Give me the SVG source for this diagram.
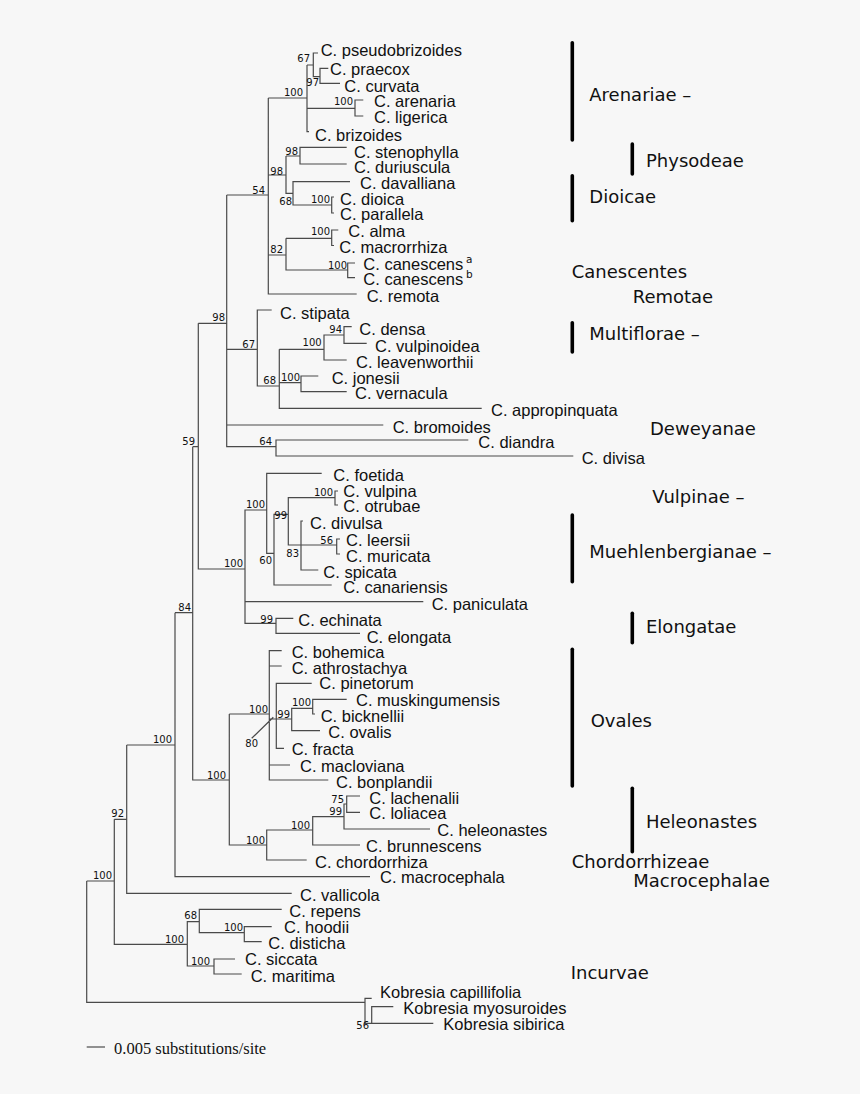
<svg xmlns="http://www.w3.org/2000/svg" width="860" height="1094" viewBox="0 0 860 1094">
<style>
.leaf{font-family:"Liberation Sans",Arial,sans-serif;font-size:16.5px;fill:#111}
.sup{font-family:"DejaVu Sans",Verdana,sans-serif;font-size:10px;fill:#111;text-anchor:end}
.sml{font-family:"DejaVu Sans",Verdana,sans-serif;font-size:10.5px;fill:#111}
.grp{font-family:"DejaVu Sans",Verdana,sans-serif;font-size:18px;fill:#111}
.br{fill:none;stroke:#4a4a4a;stroke-width:1.2}
.bar{stroke:#000;stroke-width:3.6;stroke-linecap:round}
.scale{font-family:"Liberation Serif","Times New Roman",serif;font-size:16.5px;fill:#111}
</style>
<rect x="0" y="0" width="860" height="1094" fill="#f7f7f7"/>
<g id="connectors" class="br">
<path d="M86.7,881 V1002.3 H365 M86.7,881 H114.3
M114.3,819.3 V944.3 H187.3 M114.3,819.3 H126.7
M126.7,745 V893.3 H291.7 M126.7,745 H175
M175,612.7 V876.7 H370 M175,612.7 H192.7
M192.7,446.7 V780 H229.3 M192.7,446.7 H198.3
M198.3,323.3 V569 H245 M198.3,323.3 H226.7
M226.7,195 V446.7 H276 M226.7,195 H268.3 M226.7,349.3 H257.3 M226.7,425 H383.3
M268.3,98 V294 H356.7 M268.3,98 H307 M268.3,175 H286 M268.3,255 H286
M307,65 V131.7 H309 M307,65 H313.3 M307,108.3 H355
M318,53 H313.3 V76.7 H320
M328.3,68.3 H320 V83.3 H340
M363.3,100 H355 V116 H363.3
M286,156 V193.3 H293 M286,156 H300
M346.7,147.3 H300 V164 H346.7
M350,181.7 H293 V205 H331.7
M334,197 H331.7 V213 H334
M286,238.3 V270 H347.7 M286,238.3 H331.7
M338.3,230 H331.7 V245.5 H334
M355,263 H347.7 V277.7 H355
M271.7,310 H257.3 V386 H279.3
M279.3,349.3 V408.3 H481.7 M279.3,349.3 H324 M279.3,382.7 H301
M344,335 H324 V360 H346.7
M351.7,326.7 H344 V343.3 H366.7
M318.3,376 H301 V391.7 H346.7
M468.3,440 H276 V456 H573.3
M266.7,510 H245 V623.3 H276 M245,601.7 H423.3
M321.7,473.3 H266.7 V553.3 H274
M288.3,514.3 H274 V585 H331.7
M335,497.7 H288.3 V545 H301
M338,491 H335 V505 H338
M303,521 H301 V570 H318.3 M301,545 H336.7
M340,539 H336.7 V554 H340
M293.3,618.3 H276 V633.3 H360
M229.3,714 V845 H266.7 M229.3,714 H269.3
M281.7,650.7 H269.3 V780 H328.3 M269.3,666 H281.7 M269.3,765 H290 M269.3,719 H291.7
M311.7,683.3 H276.3 V748.3 H284
M312.7,708.3 H291.7 V730.7 H320
M346.7,699.3 H312.7 V714 H315
M251.7,738.3 L273.3,717.3
M312.7,830 H266.7 V860 H306.7
M344,816.7 H312.7 V845 H360
M346.7,804 H344 V829 H430
M360,796 H346.7 V812.3 H360
M199.3,921.7 H187.3 V966 H214
M281.7,909.3 H199.3 V932.7 H244.3
M271.7,926.7 H244.3 V941.7 H261.7
M235,959 H214 V974 H241.7
M371.7,998.3 H365 V1023.3 H433.3
M393.3,1006.7 H371.7 V1023.3"/>
</g>
<g id="leaves">
<g id="leaf-pseudobrizoides"><text class="leaf" x="320.7" y="56">C. pseudobrizoides</text></g>
<g id="leaf-praecox"><text class="leaf" x="330" y="75.3">C. praecox</text></g>
<g id="leaf-curvata"><text class="leaf" x="344.3" y="92">C. curvata</text></g>
<g id="leaf-arenaria"><text class="leaf" x="374" y="106.7">C. arenaria</text></g>
<g id="leaf-ligerica"><text class="leaf" x="374" y="122.7">C. ligerica</text></g>
<g id="leaf-brizoides"><text class="leaf" x="315" y="141">C. brizoides</text></g>
<g id="leaf-stenophylla"><text class="leaf" x="354" y="157.7">C. stenophylla</text></g>
<g id="leaf-duriuscula"><text class="leaf" x="354" y="172.7">C. duriuscula</text></g>
<g id="leaf-davalliana"><text class="leaf" x="360" y="189.3">C. davalliana</text></g>
<g id="leaf-dioica"><text class="leaf" x="340" y="205.3">C. dioica</text></g>
<g id="leaf-parallela"><text class="leaf" x="340" y="220.3">C. parallela</text></g>
<g id="leaf-alma"><text class="leaf" x="348.3" y="237">C. alma</text></g>
<g id="leaf-macrorrhiza"><text class="leaf" x="339.3" y="252.7">C. macrorrhiza</text></g>
<g id="leaf-canescens-a"><text class="leaf" x="363.3" y="270.3">C. canescens</text><text class="sml" x="466" y="263">a</text></g>
<g id="leaf-canescens-b"><text class="leaf" x="363.3" y="285.3">C. canescens</text><text class="sml" x="466" y="277.5">b</text></g>
<g id="leaf-remota"><text class="leaf" x="366.7" y="301.7">C. remota</text></g>
<g id="leaf-stipata"><text class="leaf" x="280" y="318.5">C. stipata</text></g>
<g id="leaf-densa"><text class="leaf" x="359.3" y="335.3">C. densa</text></g>
<g id="leaf-vulpinoidea"><text class="leaf" x="375" y="351.7">C. vulpinoidea</text></g>
<g id="leaf-leavenworthii"><text class="leaf" x="356" y="367.7">C. leavenworthii</text></g>
<g id="leaf-jonesii"><text class="leaf" x="331.7" y="383.7">C. jonesii</text></g>
<g id="leaf-vernacula"><text class="leaf" x="355" y="399.3">C. vernacula</text></g>
<g id="leaf-appropinquata"><text class="leaf" x="491" y="416">C. appropinquata</text></g>
<g id="leaf-bromoides"><text class="leaf" x="392.7" y="432.7">C. bromoides</text></g>
<g id="leaf-diandra"><text class="leaf" x="478.3" y="448.3">C. diandra</text></g>
<g id="leaf-divisa"><text class="leaf" x="581.7" y="464.3">C. divisa</text></g>
<g id="leaf-foetida"><text class="leaf" x="333.3" y="481">C. foetida</text></g>
<g id="leaf-vulpina"><text class="leaf" x="343.3" y="497">C. vulpina</text></g>
<g id="leaf-otrubae"><text class="leaf" x="343.3" y="512">C. otrubae</text></g>
<g id="leaf-divulsa"><text class="leaf" x="310" y="528.7">C. divulsa</text></g>
<g id="leaf-leersii"><text class="leaf" x="346" y="546">C. leersii</text></g>
<g id="leaf-muricata"><text class="leaf" x="346" y="561.7">C. muricata</text></g>
<g id="leaf-spicata"><text class="leaf" x="323.3" y="577.7">C. spicata</text></g>
<g id="leaf-canariensis"><text class="leaf" x="343.3" y="592.7">C. canariensis</text></g>
<g id="leaf-paniculata"><text class="leaf" x="431.7" y="610">C. paniculata</text></g>
<g id="leaf-echinata"><text class="leaf" x="298.3" y="626">C. echinata</text></g>
<g id="leaf-elongata"><text class="leaf" x="366.7" y="642.7">C. elongata</text></g>
<g id="leaf-bohemica"><text class="leaf" x="291.7" y="657.7">C. bohemica</text></g>
<g id="leaf-athrostachya"><text class="leaf" x="291.7" y="674.3">C. athrostachya</text></g>
<g id="leaf-pinetorum"><text class="leaf" x="319.3" y="689.3">C. pinetorum</text></g>
<g id="leaf-muskingumensis"><text class="leaf" x="356" y="706">C. muskingumensis</text></g>
<g id="leaf-bicknellii"><text class="leaf" x="320.7" y="722">C. bicknellii</text></g>
<g id="leaf-ovalis"><text class="leaf" x="328.3" y="737.7">C. ovalis</text></g>
<g id="leaf-fracta"><text class="leaf" x="291.7" y="755">C. fracta</text></g>
<g id="leaf-macloviana"><text class="leaf" x="300" y="771.7">C. macloviana</text></g>
<g id="leaf-bonplandii"><text class="leaf" x="336" y="787.7">C. bonplandii</text></g>
<g id="leaf-lachenalii"><text class="leaf" x="369.3" y="803.7">C. lachenalii</text></g>
<g id="leaf-loliacea"><text class="leaf" x="369.3" y="819.3">C. loliacea</text></g>
<g id="leaf-heleonastes"><text class="leaf" x="437.3" y="836">C. heleonastes</text></g>
<g id="leaf-brunnescens"><text class="leaf" x="366" y="852">C. brunnescens</text></g>
<g id="leaf-chordorrhiza"><text class="leaf" x="315" y="867.7">C. chordorrhiza</text></g>
<g id="leaf-macrocephala"><text class="leaf" x="380" y="883.3">C. macrocephala</text></g>
<g id="leaf-vallicola"><text class="leaf" x="300" y="901">C. vallicola</text></g>
<g id="leaf-repens"><text class="leaf" x="289.3" y="916.7">C. repens</text></g>
<g id="leaf-hoodii"><text class="leaf" x="284" y="932.7">C. hoodii</text></g>
<g id="leaf-disticha"><text class="leaf" x="268.3" y="948.7">C. disticha</text></g>
<g id="leaf-siccata"><text class="leaf" x="245" y="965">C. siccata</text></g>
<g id="leaf-maritima"><text class="leaf" x="250.7" y="981.7">C. maritima</text></g>
<g id="leaf-kobresia-capillifolia"><text class="leaf" x="380" y="998">Kobresia capillifolia</text></g>
<g id="leaf-kobresia-myosuroides"><text class="leaf" x="403.3" y="1013.7">Kobresia myosuroides</text></g>
<g id="leaf-kobresia-sibirica"><text class="leaf" x="443.3" y="1030.3">Kobresia sibirica</text></g>
</g>
<g id="support-values" class="sup">
<text x="303" y="95.5">100</text>
<text x="310" y="61.5">67</text>
<text x="319" y="86">97</text>
<text x="353" y="105">100</text>
<text x="298" y="155">98</text>
<text x="283" y="175">98</text>
<text x="292" y="205">68</text>
<text x="330" y="203">100</text>
<text x="265" y="194">54</text>
<text x="330" y="234.5">100</text>
<text x="283" y="252.5">82</text>
<text x="347" y="268.5">100</text>
<text x="225" y="320.5">98</text>
<text x="255" y="347.5">67</text>
<text x="342" y="332.5">94</text>
<text x="321.7" y="346">100</text>
<text x="276" y="383.5">68</text>
<text x="300" y="381">100</text>
<text x="272" y="445">64</text>
<text x="195" y="444.5">59</text>
<text x="265" y="508">100</text>
<text x="243" y="566.5">100</text>
<text x="333" y="495.5">100</text>
<text x="287" y="518.5">99</text>
<text x="333" y="543.5">56</text>
<text x="299" y="556.5">83</text>
<text x="272" y="563.5">60</text>
<text x="273" y="622.5">99</text>
<text x="191" y="610.5">84</text>
<text x="268" y="712.5">100</text>
<text x="290" y="717.5">99</text>
<text x="311" y="706">100</text>
<text x="258" y="747">80</text>
<text x="226" y="778.5">100</text>
<text x="344" y="802.5">75</text>
<text x="342" y="814.5">99</text>
<text x="310" y="828.5">100</text>
<text x="265" y="843.5">100</text>
<text x="172" y="742.5">100</text>
<text x="124" y="816.5">92</text>
<text x="112" y="878.5">100</text>
<text x="197" y="918.5">68</text>
<text x="184" y="942.5">100</text>
<text x="243" y="931">100</text>
<text x="210" y="964.5">100</text>
<text x="369" y="1029">56</text>
</g>
<g id="groups">
<g id="grp-arenariae"><line class="bar" x1="572.3" y1="42.7" x2="572.3" y2="140"/><text class="grp" x="589.3" y="101">Arenariae –</text></g>
<g id="grp-physodeae"><line class="bar" x1="632.3" y1="144" x2="632.3" y2="174"/><text class="grp" x="646" y="166.7">Physodeae</text></g>
<g id="grp-dioicae"><line class="bar" x1="572.3" y1="175.7" x2="572.3" y2="220.7"/><text class="grp" x="589.3" y="203.3">Dioicae</text></g>
<g id="grp-canescentes"><text class="grp" x="571.7" y="278.3">Canescentes</text></g>
<g id="grp-remotae"><text class="grp" x="632.7" y="303.3">Remotae</text></g>
<g id="grp-multiflorae"><line class="bar" x1="572.3" y1="322.7" x2="572.3" y2="352"/><text class="grp" x="589.3" y="340">Multiflorae –</text></g>
<g id="grp-deweyanae"><text class="grp" x="650" y="435">Deweyanae</text></g>
<g id="grp-vulpinae"><text class="grp" x="652.3" y="502.7">Vulpinae –</text></g>
<g id="grp-muehlenbergianae"><line class="bar" x1="572.3" y1="515" x2="572.3" y2="581.7"/><text class="grp" x="589.3" y="558.3">Muehlenbergianae –</text></g>
<g id="grp-elongatae"><line class="bar" x1="632.3" y1="613.3" x2="632.3" y2="642.7"/><text class="grp" x="646" y="632.7">Elongatae</text></g>
<g id="grp-ovales"><line class="bar" x1="572.3" y1="649.3" x2="572.3" y2="786"/><text class="grp" x="590.7" y="727.3">Ovales</text></g>
<g id="grp-heleonastes"><line class="bar" x1="632.3" y1="788.3" x2="632.3" y2="851.7"/><text class="grp" x="646" y="828.3">Heleonastes</text></g>
<g id="grp-chordorrhizeae"><text class="grp" x="571.7" y="867.7">Chordorrhizeae</text></g>
<g id="grp-macrocephalae"><text class="grp" x="633.3" y="887.3">Macrocephalae</text></g>
<g id="grp-incurvae"><text class="grp" x="570.7" y="979.3">Incurvae</text></g>
</g>
<g id="scale-bar">
<line x1="86.7" y1="1047" x2="105" y2="1047" stroke="#4a4a4a" stroke-width="1.2"/>
<text class="scale" x="114" y="1054">0.005 substitutions/site</text>
</g>
</svg>
